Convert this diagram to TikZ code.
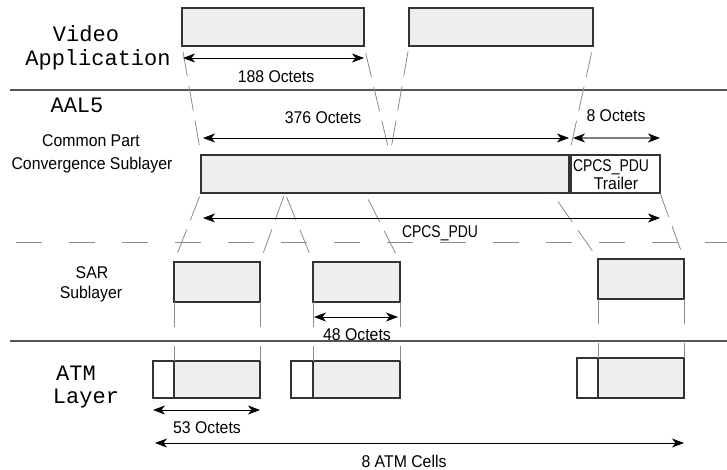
\documentclass[tikz,border=0pt]{standalone}
\usepackage{fontspec}
\setmainfont{Liberation Sans}
\newfontfamily\monof{Liberation Mono}
\newfontfamily\sansf[FakeStretch=0.93]{Liberation Sans}
\newfontfamily\condf[FakeStretch=0.82]{Liberation Sans}
\usetikzlibrary{arrows.meta}
\definecolor{boxfill}{HTML}{EEEEEE}
\definecolor{boxline}{HTML}{333333}
\definecolor{sepline}{HTML}{555555}
\definecolor{linkgray}{HTML}{8C8C8C}
\begin{document}
\begin{tikzpicture}[x=1pt,y=-1pt,
  box/.style={draw=boxline, line width=1.4pt, fill=boxfill, inner sep=0pt, outer sep=0pt, anchor=north west},
  hdr/.style={box, fill=white},
  sans/.style={inner sep=0pt, anchor=base, font=\sansf\fontsize{17}{20}\selectfont},
  cond/.style={inner sep=0pt, anchor=base, font=\condf\fontsize{17}{20}\selectfont},
  mono/.style={inner sep=0pt, anchor=base, font=\monof\fontsize{22}{26}\selectfont},
  tipb/.tip={Stealth[length=12pt,width=9pt,inset=3.5pt,color=black]},
  dim/.style={draw=black, line width=0.9pt, arrows={tipb-tipb}},
  dimgray/.style={draw=gray, line width=1.3pt, arrows={tipb-tipb}},
  link/.style={draw=linkgray, line width=0.8pt, dash pattern=on 25pt off 10pt, dash phase=25pt},
  vlink/.style={draw=linkgray, line width=0.8pt, dash pattern=on 25pt off 19pt},
  sep/.style={draw=sepline, line width=1.2pt},
  dsep/.style={draw=linkgray, line width=1pt, dash pattern=on 26pt off 27pt}
]
\path[use as bounding box, fill=white] (0,0) rectangle (727,470);

% separators
\draw[sep] (10,90) -- (727,90);
\draw[sep] (10,341) -- (727,341);
\draw[dsep] (16,242) -- (727,242);

% layer labels
\node[mono] (tVideo) at (86,42) {Video};
\node[mono] (tApp) at (98,66) {Application};
\node[mono] (tAAL) at (77,113) {AAL5};
\node[sans] (tCP) at (91,147) {Common Part};
\node[sans] (tCS) at (92,170) {Convergence Sublayer};
\node[sans] (tSAR) at (92,278) {SAR};
\node[sans] (tSub) at (91,298) {Sublayer};
\node[mono] (tATM) at (76,380) {ATM};
\node[mono] (tLay) at (86,403) {Layer};

% video boxes
\node[box, minimum width=182pt, minimum height=38pt] (v1) at (182,8) {};
\node[box, minimum width=184pt, minimum height=38pt] (v2) at (409,8) {};

% CPCS
\node[box, minimum width=368pt, minimum height=38pt] (cpcs) at (201,155) {};
\node[hdr, minimum width=89pt, minimum height=38pt] (trl) at (571,155) {};
\node[cond] (tTrl1) at (611,172) {CPCS\_PDU};
\node[sans] (tTrl2) at (616,190) {Trailer};

% SAR
\node[box, minimum width=86pt, minimum height=40pt] (s1) at (174,262) {};
\node[box, minimum width=87pt, minimum height=40pt] (s2) at (313,262) {};
\node[box, minimum width=86pt, minimum height=40pt] (s3) at (598,259) {};

% ATM cells
\node[hdr, minimum width=21pt, minimum height=37pt] (a1h) at (153,361) {};
\node[box, minimum width=86pt, minimum height=37pt] (a1) at (174,361) {};
\node[hdr, minimum width=22pt, minimum height=37pt] (a2h) at (291,361) {};
\node[box, minimum width=87pt, minimum height=37pt] (a2) at (313,361) {};
\node[hdr, minimum width=21pt, minimum height=40pt] (a3h) at (577,358) {};
\node[box, minimum width=86pt, minimum height=40pt] (a3) at (598,358) {};

% convergence points
\coordinate (m1) at (390,155);
\coordinate (m2) at (285,193);
\coordinate (m3) at (365,193);
\coordinate (m4) at (552,193);

% mapping lines video -> CPCS
\draw[link] (cpcs.north west) -- (v1.south west);
\draw[link] (m1) -- (v1.south east);
\draw[link] (m1) -- (v2.south west);
\draw[link] (cpcs.north east) -- (v2.south east);

% mapping lines CPCS -> SAR
\draw[link] (s1.north west) -- (cpcs.south west);
\draw[link] (s1.north east) -- (m2);
\draw[link] (s2.north west) -- (m2);
\draw[link] (s2.north east) -- (m3);
\draw[link] (s3.north west) -- (m4);
\draw[link] (s3.north east) -- (trl.south east);

% SAR -> ATM
\draw[vlink] (s1.south west) -- (a1.north west);
\draw[vlink] (s1.south east) -- (a1.north east);
\draw[vlink] (s2.south west) -- (a2.north west);
\draw[vlink] (s2.south east) -- (a2.north east);
\draw[vlink] (s3.south west) -- (a3.north west);
\draw[vlink] (s3.south east) -- (a3.north east);

% dimension arrows
\coordinate (d1a) at (183,58);  \coordinate (d1b) at (364,58);
\coordinate (d2a) at (203,138); \coordinate (d2b) at (569,138);
\coordinate (d3a) at (573,138); \coordinate (d3b) at (660,138);
\coordinate (d4a) at (203,218); \coordinate (d4b) at (660,218);
\coordinate (d5a) at (314,317); \coordinate (d5b) at (398,317);
\coordinate (d6a) at (153,410); \coordinate (d6b) at (260,410);
\coordinate (d7a) at (155,443); \coordinate (d7b) at (684,443);

\draw[dim] (d1a) -- (d1b);
\draw[dim] (d2a) -- (d2b);
\draw[dimgray] (d3a) -- (d3b);
\draw[dim] (d4a) -- (d4b);
\draw[dim] (d5a) -- (d5b);
\draw[dim] (d6a) -- (d6b);
\draw[dim] (d7a) -- (d7b);

\node[sans] (l1) at (276,83) {188 Octets};
\node[sans] (l2) at (323,124) {376 Octets};
\node[sans] (l3) at (616,122) {8 Octets};
\node[cond] (l4) at (440,237) {CPCS\_PDU};
\node[sans] (l5) at (357,340) {48 Octets};
\node[sans] (l6) at (207,433) {53 Octets};
\node[sans] (l7) at (404,467) {8 ATM Cells};
\end{tikzpicture}
\end{document}
